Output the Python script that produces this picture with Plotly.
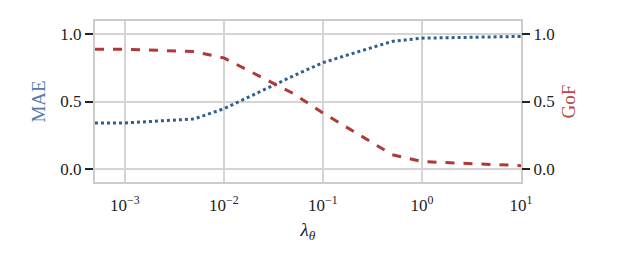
import numpy as np
import plotly.graph_objects as go

lam = [5e-4, 1e-3, 5e-3, 1e-2, 5e-2, 1e-1, 5e-1, 1.0, 10.0]
mae = [0.34, 0.34, 0.37, 0.446, 0.69, 0.79, 0.948, 0.972, 0.985]
gof = [0.89, 0.89, 0.872, 0.825, 0.56, 0.415, 0.104, 0.052, 0.022]
xtick_vals = [1e-3, 1e-2, 1e-1, 1, 10]
xtick_text = ["10<sup>−3</sup>", "10<sup>−2</sup>", "10<sup>−1</sup>", "10<sup>0</sup>", "10<sup>1</sup>"]
ytick_vals = [0.0, 0.5, 1.0]
ytick_text = ["0.0", "0.5", "1.0"]

blue = "#2f5f8f"
red = "#ad3a34"
font = "Liberation Serif"

fig = go.Figure()
fig.add_trace(go.Scatter(x=lam, y=mae, mode="lines", line=dict(color=blue, width=3, dash="dot"), yaxis="y"))
fig.add_trace(go.Scatter(x=lam, y=gof, mode="lines", line=dict(color=red, width=3, dash="dash"), yaxis="y2"))

fig.update_layout(
    width=609, height=252,
    margin=dict(l=87, r=96, t=13, b=78),
    paper_bgcolor="white", plot_bgcolor="white",
    showlegend=False,
    font=dict(family=font, size=17, color="#222"),
    xaxis=dict(type="log", range=[np.log10(5e-4), 1], tickvals=xtick_vals, ticktext=xtick_text,
               showgrid=True, gridcolor="#d4d4d4", gridwidth=1.5, showline=True, mirror=True,
               linecolor="#cccccc", linewidth=2, ticks="outside", ticklen=7, tickcolor="rgba(0,0,0,0)",
               zeroline=False,
               title=dict(text="<i>λ<sub>θ</sub></i>", standoff=8, font=dict(size=19))),
    yaxis=dict(range=[-0.1, 1.1], tickvals=ytick_vals, ticktext=ytick_text, showgrid=True,
               gridcolor="#d4d4d4", gridwidth=1.5, showline=True, mirror=True, linecolor="#cccccc",
               linewidth=2, ticks="outside", ticklen=8, tickwidth=2, tickcolor="#222", zeroline=False,
               title=dict(text="MAE", font=dict(color="#4f7ba6", size=19), standoff=10)),
    yaxis2=dict(range=[-0.1, 1.1], tickvals=ytick_vals, ticktext=ytick_text, overlaying="y", side="right",
                showgrid=False, ticks="outside", ticklen=8, tickwidth=2, tickcolor="#222", zeroline=False,
                title=dict(text="GoF", font=dict(color="#b54a44", size=19), standoff=8)),
)
fig.write_html("out.html")
